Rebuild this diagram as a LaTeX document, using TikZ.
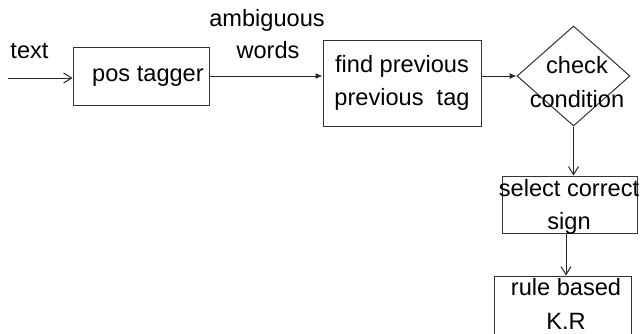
\documentclass[tikz,border=0pt]{standalone}
\usepackage{fontspec}
\setmainfont{Liberation Sans}
\usetikzlibrary{arrows.meta,shapes.geometric,positioning}

\begin{document}
\begin{tikzpicture}[x=0.5pt, y=-0.5pt, line width=0.5pt, draw=black!85,
  every node/.style={font=\fontsize{11.8}{16.8}\selectfont, inner sep=0pt},
  stage/.style={draw=black!80, rectangle, align=center},
  open/.style={-{Straight Barb[length=4pt, width=5pt]}},
  solid tip/.style={-{Latex[length=3.5pt, width=3pt]}}]
\path[use as bounding box] (0,0) rectangle (642,333);
\node[anchor=base west] (textlbl) at (10,58) {text};
\node[anchor=base] (ambig) at (267,26) {ambiguous};
\node[anchor=base] (words) at (268,58) {words};
\coordinate (in) at (8,78);
\node[stage, minimum width=68pt, minimum height=29pt] (pos) at (141,76) {\hspace{7pt}pos tagger};
\node[stage, minimum width=79pt, minimum height=43pt] (find) at (402,83) {find previous\\previous\ \ tag};
\node[draw=black!80, diamond, minimum width=56.5pt, minimum height=50pt] (check) at (573.5,76) {};
\node[align=center] (checktxt) at (577,82) {check\\condition};
\node[stage, minimum width=67.5pt, minimum height=28.5pt] (select) at (569.5,204.5) {};
\node[align=center] (selecttxt) at (569,207) {select correct\\sign};
\node[stage, minimum width=68.5pt, minimum height=32pt] (rule) at (562.5,308) {};
\node[align=center, anchor=north] (ruletxt) at (566,278) {rule based\\K.R};
\draw[open] (in) -- (in -| pos.west);
\draw[solid tip] (pos.east) -- (pos.east -| find.west);
\draw[solid tip] (check.west -| find.east) -- (check.west);
\draw[open] (check.south) -- (check.south |- select.north);
\draw[open] (select.south -| ruletxt) -- (ruletxt |- rule.north);
\end{tikzpicture}
\end{document}
